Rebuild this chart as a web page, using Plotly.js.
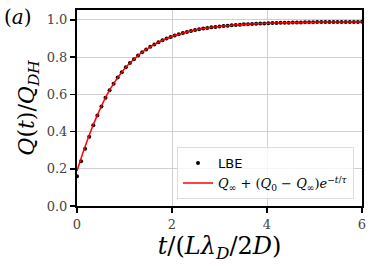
<!DOCTYPE html>
<html><head><meta charset="utf-8">
<script src="https://cdn.plot.ly/plotly-3.0.1.min.js"></script>
<style>html,body{margin:0;padding:0;background:#fff}#plot{width:374px;height:267px}</style>
</head><body><div id="plot"></div>
<script>
const tValues = [0.000,0.086,0.171,0.257,0.343,0.429,0.514,0.600,0.686,0.771,0.857,0.943,1.029,1.114,1.200,1.286,1.371,1.457,1.543,1.629,1.714,1.800,1.886,1.971,2.057,2.143,2.229,2.314,2.400,2.486,2.571,2.657,2.743,2.829,2.914,3.000,3.086,3.171,3.257,3.343,3.429,3.514,3.600,3.686,3.771,3.857,3.943,4.029,4.114,4.200,4.286,4.371,4.457,4.543,4.629,4.714,4.800,4.886,4.971,5.057,5.143,5.229,5.314,5.400,5.486,5.571,5.657,5.743,5.829,5.914,6.000];
const lbeQ = [0.160,0.240,0.308,0.372,0.434,0.486,0.535,0.582,0.622,0.657,0.690,0.719,0.745,0.768,0.789,0.808,0.826,0.841,0.855,0.868,0.880,0.890,0.900,0.908,0.916,0.923,0.929,0.935,0.940,0.945,0.949,0.953,0.956,0.960,0.962,0.965,0.967,0.969,0.971,0.973,0.974,0.976,0.977,0.978,0.979,0.980,0.981,0.982,0.983,0.983,0.984,0.985,0.985,0.986,0.986,0.986,0.987,0.987,0.987,0.988,0.988,0.988,0.988,0.989,0.989,0.989,0.989,0.989,0.989,0.989,0.990];
const fitQ = [0.188,0.257,0.320,0.380,0.437,0.488,0.536,0.582,0.622,0.657,0.690,0.719,0.745,0.768,0.789,0.808,0.826,0.841,0.855,0.868,0.880,0.890,0.900,0.908,0.916,0.923,0.929,0.935,0.940,0.945,0.949,0.953,0.956,0.960,0.962,0.965,0.967,0.969,0.971,0.973,0.974,0.976,0.977,0.978,0.979,0.980,0.981,0.982,0.983,0.983,0.984,0.985,0.985,0.986,0.986,0.986,0.987,0.987,0.987,0.988,0.988,0.988,0.988,0.989,0.989,0.989,0.989,0.989,0.989,0.989,0.990];
const xTicks = [0,2,4,6];
const yTicks = [0.0,0.2,0.4,0.6,0.8,1.0];

const serif = "DejaVu Serif";
const data = [
  {x: tValues, y: lbeQ, type: 'scatter', mode: 'markers', name: 'LBE',
   marker: {color: '#000', size: 4}},
  {x: tValues, y: fitQ, type: 'scatter', mode: 'lines', line: {color: '#ff0000', width: 1.5, shape: 'spline'},
   name: '<span style="font-family:DejaVu Serif;font-size:13px"><i>Q</i><sub>∞</sub> + (<i>Q</i><sub>0</sub> − <i>Q</i><sub>∞</sub>)<i>e</i><sup>−<i>t</i>/<i>τ</i></sup></span>'}
];
const axisCommon = {showline: true, linecolor: '#000', linewidth: 2, mirror: true,
  ticks: 'outside', ticklen: 5, tickwidth: 1.5, tickcolor: '#000',
  showgrid: true, gridcolor: '#d0d0d0', gridwidth: 1, zeroline: false,
  tickfont: {family: serif, size: 13, color: '#444'}};
const layout = {
  width: 374, height: 267,
  margin: {l: 77, r: 12, t: 10, b: 61},
  font: {family: serif},
  paper_bgcolor: '#fff', plot_bgcolor: '#fff',
  showlegend: true,
  legend: {x: 0.972, y: 0.035, xanchor: 'right', yanchor: 'bottom',
    bgcolor: 'rgba(255,255,255,0.8)', bordercolor: '#dddddd', borderwidth: 1,
    font: {family: 'DejaVu Sans', size: 13, color: '#000'}, tracegroupgap: 0},
  xaxis: Object.assign({}, axisCommon, {range: [0, 6], tickvals: xTicks, ticktext: xTicks.map(String),
    title: {text: '<i>t</i>/(<i>L</i><i>λ</i><sub><i>D</i></sub>/2<i>D</i>)', font: {family: serif, size: 24, color: '#000'}, standoff: 2}}),
  yaxis: Object.assign({}, axisCommon, {range: [0, 1.053], tickvals: yTicks, ticktext: yTicks.map(v => v.toFixed(1)),
    title: {text: '<i>Q</i>(<i>t</i>)/<i>Q</i><sub><i>DH</i></sub>', font: {family: serif, size: 22, color: '#000'}, standoff: 6}}),
  annotations: [{text: '(<i>a</i>)', xref: 'paper', yref: 'paper', x: -0.207, y: 0.962, xanchor: 'center', yanchor: 'middle',
    showarrow: false, font: {family: serif, size: 20, color: '#000'}}]
};
Plotly.newPlot('plot', data, layout, {displayModeBar: false, staticPlot: true});
</script></body></html>
